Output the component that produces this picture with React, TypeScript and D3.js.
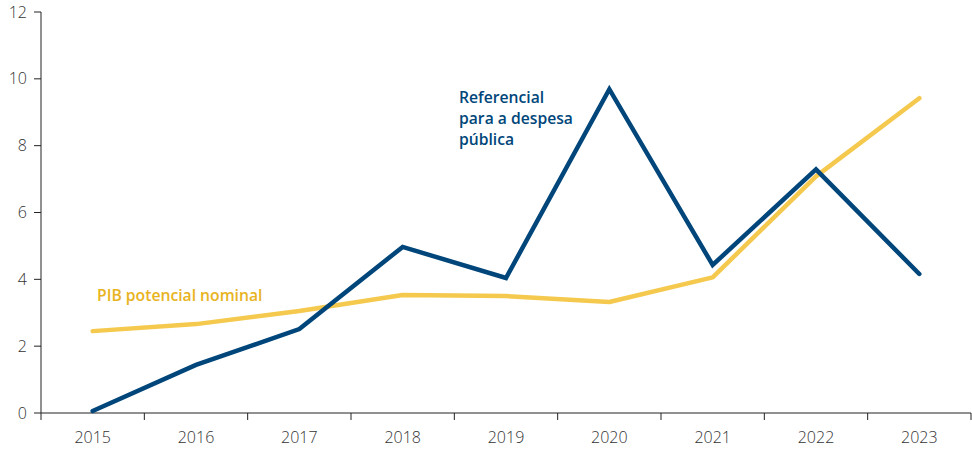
import React from "react";
import * as d3 from "d3";

const years = ["2015", "2016", "2017", "2018", "2019", "2020", "2021", "2022", "2023"];
const referencial = [0.06, 1.44, 2.51, 4.97, 4.04, 9.69, 4.43, 7.29, 4.16];
const pibPotencial = [2.45, 2.66, 3.05, 3.53, 3.5, 3.32, 4.06, 7.08, 9.42];
const yTicks = [0, 2, 4, 6, 8, 10, 12];

const W = 972;
const H = 451;
const M = { left: 41, right: 1, top: 12, bottom: 38 };
const BLUE = "#00467a";
const YELLOW = "#f4c94e";
const FONT = "'Open Sans', sans-serif";

export default function App() {
  const x = d3.scaleBand<string>().domain(years).range([M.left, W - M.right]).padding(0);
  const y = d3.scaleLinear().domain([0, 12]).range([H - M.bottom, M.top]);
  const cx = (d: string) => (x(d) as number) + x.bandwidth() / 2;
  const line = d3
    .line<number>()
    .x((_, i) => cx(years[i]))
    .y((v) => y(v));
  const y0 = y(0);
  const bounds = [...years.map((d) => x(d) as number), W - M.right];

  return (
    <svg
      width={W}
      height={H}
      style={{ position: "absolute", left: 0, top: 0, fontFamily: FONT }}
    >
      <rect width={W} height={H} fill="#fff" />
      {/* y axis */}
      <line x1={M.left} x2={M.left} y1={M.top} y2={y0} stroke="#222" strokeWidth={1} />
      {yTicks.map((t) => (
        <g key={t}>
          <line x1={M.left - 7} x2={M.left} y1={y(t)} y2={y(t)} stroke="#222" strokeWidth={1} />
          <text x={M.left - 14} y={y(t)} dy="0.35em" textAnchor="end" fontSize={16} fontWeight={300} fill="#333">
            {t}
          </text>
        </g>
      ))}
      {/* x axis */}
      <line x1={M.left} x2={W - M.right} y1={y0} y2={y0} stroke="#222" strokeWidth={1} />
      {bounds.map((b, i) => (
        <line key={i} x1={b} x2={b} y1={y0} y2={y0 + 7} stroke="#222" strokeWidth={1} />
      ))}
      {years.map((d) => (
        <text key={d} x={cx(d)} y={y0 + 30} textAnchor="middle" fontSize={16} fontWeight={300} fill="#333">
          {d}
        </text>
      ))}
      {/* lines */}
      <path d={line(pibPotencial) || ""} fill="none" stroke={YELLOW} strokeWidth={4.5} strokeLinecap="round" strokeLinejoin="round" />
      <path d={line(referencial) || ""} fill="none" stroke={BLUE} strokeWidth={4.5} strokeLinecap="round" strokeLinejoin="miter" />
      {/* labels */}
      <text x={97} y={301} fontSize={15.7} fontWeight={600} fill="#e8b321">
        PIB potencial nominal
      </text>
      <text fontSize={15.7} fontWeight={600} fill={BLUE}>
        <tspan x={459} y={103}>Referencial</tspan>
        <tspan x={459} y={124}>para a despesa</tspan>
        <tspan x={459} y={145}>pública</tspan>
      </text>
    </svg>
  );
}
